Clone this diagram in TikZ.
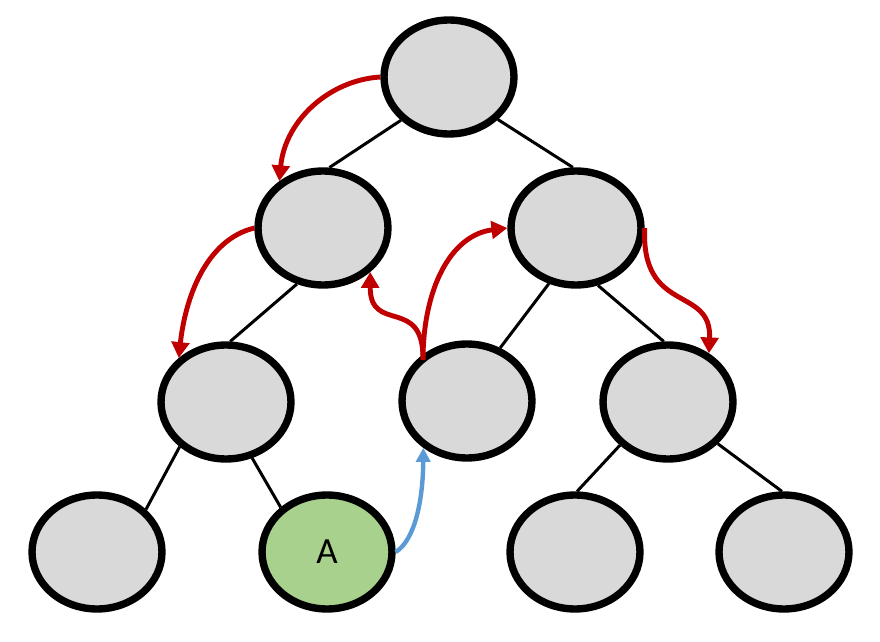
\documentclass[tikz,border=0pt]{standalone}
\usepackage{fontspec}
\setmainfont{Carlito}
\usetikzlibrary{shapes.geometric,arrows.meta,backgrounds}
\definecolor{nodegray}{HTML}{D9D9D9}
\definecolor{nodegreen}{HTML}{A9D18E}
\definecolor{arrred}{HTML}{C00000}
\definecolor{arrblue}{HTML}{5B9BD5}
\tikzset{
  treenode/.style={ellipse, draw=black, line width=4.2pt, fill=nodegray,
    minimum width=2.6cm, minimum height=2.28cm, inner sep=0pt},
  hitnode/.style={treenode, fill=nodegreen},
  edgeline/.style={draw=black, line width=1.7pt},
  redarrow/.style={draw=arrred, line width=2.8pt,
    -{Triangle[length=9pt,width=10pt]}},
  bluearrow/.style={draw=arrblue, line width=2.5pt,
    -{Triangle[length=8pt,width=8pt]}}
}
\begin{document}
\begin{tikzpicture}[x=0.02cm,y=-0.02cm]
\useasboundingbox (0,0) rectangle (880,642);
% nodes
\node[treenode] (R) at (449,77) {};
\node[treenode] (B) at (323,228) {};
\node[treenode] (C) at (576,228) {};
\node[treenode] (D) at (226,402) {};
\node[treenode] (E) at (467,401) {};
\node[treenode] (F) at (668,402) {};
\node[treenode] (G) at (97,552) {};
\node[hitnode] (A) at (327,552) {\fontsize{21}{25}\selectfont A};
\node[treenode] (H) at (575,552) {};
\node[treenode] (I) at (784,552) {};
% tree edges
\begin{scope}[on background layer]
\draw[edgeline] (R.222) -- (B.84);
\draw[edgeline] (R.319) -- (C.93);
\draw[edgeline] (B.245) -- (D.86);
\draw[edgeline] (C.244) -- (E.58);
\draw[edgeline] (C.291) -- (F.94);
\draw[edgeline] (D.224) -- (G.41);
\draw[edgeline] (D.295) -- (A.136);
\draw[edgeline] (F.222) -- (H.88);
\draw[edgeline] (F.320) -- (I.92);
\end{scope}
% traversal arrows
\coordinate (Etop) at (423,360);
\draw[redarrow] (R.west) .. controls (330,80) and (285,120) .. (B.133);
\draw[redarrow] (B.west) .. controls (205,240) and (185,300) .. (D.137);
\draw[redarrow] (Etop) .. controls (424,295) and (370,335) .. (B.-43);
\draw[redarrow] (Etop) .. controls (423,290) and (450,235) .. (C.west);
\draw[redarrow] (C.east) .. controls (641,315) and (712,285) .. (F.50);
\draw[bluearrow] (A.east) .. controls (415,540) and (423,500) .. (E.227);
\end{tikzpicture}
\end{document}
